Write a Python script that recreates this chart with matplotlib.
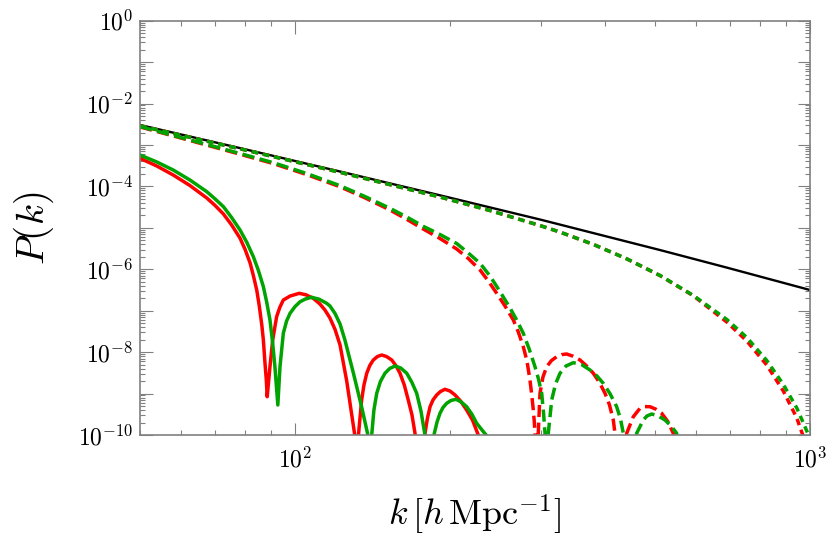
import numpy as np
import matplotlib
matplotlib.use('Agg')
import matplotlib.pyplot as plt
from matplotlib.ticker import FixedLocator, LogLocator, NullFormatter, FuncFormatter

# ---------------- data ----------------
k_black = [50, 78.2, 122.3, 191.2, 299, 511, 689, 1000]
P_black = [3.04e-3, 8.41e-4, 2.29e-4, 6.1e-5, 1.59e-5, 2.92e-6, 1.10e-6, 3.16e-7]

k_dot_g = [50, 78.2, 122.3, 191.2, 239.1, 298.9, 327.0, 379.5, 440.6, 511.3, 593.4,
           689.2, 753.6, 824, 887.6, 942.7, 985.8, 1000]
P_dot_g = [2.90e-3, 8.09e-4, 2.19e-4, 5.55e-5, 2.62e-5, 1.139e-5, 7.90e-6, 3.99e-6,
           1.79e-6, 7.11e-7, 2.34e-7, 6.17e-8, 2.27e-8, 6.32e-9, 1.66e-9, 4.48e-10,
           1.25e-10, 8.0e-11]

k_dot_r = [50, 78.2, 122.3, 191.2, 239.1, 298.9, 327.0, 379.5, 440.6, 511.3, 593.4,
           689.2, 753.6, 824, 887.6, 942.7, 969.5]
P_dot_r = [2.90e-3, 8.09e-4, 2.19e-4, 5.55e-5, 2.62e-5, 1.139e-5, 7.90e-6, 3.99e-6,
           1.79e-6, 7.05e-7, 2.30e-7, 5.34e-8, 1.86e-8, 4.90e-9, 1.15e-9, 2.57e-10,
           9.5e-11]

k_dash_r = [50, 58.0, 67.4, 78.2, 90.75, 105.4, 122.3, 136.7, 152.9, 164.8, 177.4,
            191.2, 206.0, 217.0, 228.7, 237.3, 246.4, 255.7, 265.4, 271.4, 277.5,
            282.1, 285.9, 288.2, 290.2, 291.5, 292.4, 294.4,
            296.7, 299.0, 303.0, 308.1, 314.8, 322.2, 329.5, 336.9, 346.5, 357.6,
            368.4, 379.5, 390.1, 399.9, 408.0, 415.0, 418.1, 430.0,
            440.6, 453.8, 467.6, 478.1, 488.9, 502.2, 515.2, 529.4, 542.6, 555]
P_dash_r = [2.73e-3, 1.657e-3, 9.94e-4, 5.99e-4, 3.56e-4, 1.93e-4, 9.79e-5, 5.31e-5,
            2.70e-5, 1.608e-5, 9.38e-6, 5.53e-6, 3.09e-6, 1.82e-6, 9.61e-7, 5.21e-7,
            2.63e-7, 1.30e-7, 5.97e-8, 3.06e-8, 1.353e-8, 6.11e-9, 2.13e-9, 9.24e-10,
            4.01e-10, 2.06e-10, 1.10e-10, 1e-13,
            1.10e-10, 1.015e-9, 2.51e-9, 4.45e-9, 6.28e-9, 7.76e-9, 8.72e-9, 9.02e-9,
            7.98e-9, 6.46e-9, 4.63e-9, 3.09e-9, 1.85e-9, 1.015e-9, 5.30e-10, 2.30e-10,
            1.10e-10, 1e-13,
            1.10e-10, 2.76e-10, 4.41e-10, 4.85e-10, 4.82e-10, 4.19e-10, 3.34e-10,
            2.12e-10, 1.10e-10, 1e-13]

k_dash_g = [50, 58.0, 67.4, 78.2, 90.75, 105.4, 122.3, 136.7, 152.9, 164.8, 177.4,
            191.2, 206.0, 217.0, 228.7, 239.1, 250.0, 261.5, 269.4, 277.5, 284.9,
            292.4, 297.0, 301.3, 303.7, 305.8, 308.5,
            310.3, 315.1, 320.5, 327.0, 335.9, 347.0, 360.0, 373.9, 385.8, 396.8,
            409.3, 421.3, 428.6, 434.0, 447.0,
            460.7, 474.5, 482.4, 492.7, 506.7, 522.9, 537.5, 551.0, 570]
P_dash_g = [2.79e-3, 1.695e-3, 1.028e-3, 6.23e-4, 3.74e-4, 2.05e-4, 1.041e-4, 5.71e-5,
            2.96e-5, 1.83e-5, 1.09e-5, 6.91e-6, 4.19e-6, 2.47e-6, 1.394e-6, 6.88e-7,
            2.91e-7, 1.163e-7, 5.97e-8, 2.85e-8, 1.19e-8, 4.45e-9, 2.25e-9, 1.015e-9,
            3.59e-10, 1.10e-10, 1e-13,
            1.10e-10, 7.0e-10, 1.70e-9, 3.09e-9, 4.63e-9, 5.56e-9, 5.03e-9, 3.71e-9,
            2.65e-9, 1.77e-9, 9.76e-10, 4.82e-10, 2.43e-10, 1.10e-10, 1e-13,
            1.10e-10, 2.30e-10, 2.88e-10, 3.21e-10, 2.91e-10, 2.30e-10, 1.65e-10,
            1.10e-10, 1e-13]

k_sol_r = [50, 53.9, 58.0, 62.5, 67.4, 69.9, 72.6, 75.3, 78.2, 80.0, 81.8, 83.0,
           84.3, 85.2, 86.2, 86.8, 87.4, 87.95, 88.3,
           89.4, 90.5, 92.1, 93.4, 94.9, 97.8, 101.9, 105.0, 108.5, 111.8, 114.3,
           116.9, 119.6, 122.3, 126.0, 128.8, 130.7, 131.5,
           132.7, 134.7, 136.1, 137.8, 139.7, 141.9, 144.5, 147.3, 150.5, 154.1,
           157.1, 159.9, 163.0, 165.9, 168.7, 171.0, 174.5,
           178.8, 180.8, 182.9, 185.3, 188.4, 191.6, 195.5, 200.0, 204.5, 209.6,
           215.4, 221.1, 226.9, 230.0]
P_sol_r = [4.77e-4, 3.11e-4, 1.886e-4, 1.052e-4, 5.25e-5, 3.50e-5, 2.16e-5, 1.178e-5,
           5.63e-6, 3.00e-6, 1.418e-6, 7.08e-7, 3.07e-7, 1.335e-7, 4.52e-8, 1.96e-8,
           5.78e-9, 2.13e-9, 8.40e-10,
           4.45e-9, 1.96e-8, 7.17e-8, 1.195e-7, 1.81e-7, 2.26e-7, 2.63e-7, 2.42e-7,
           1.99e-7, 1.45e-7, 1.04e-7, 6.67e-8, 3.52e-8, 1.487e-8, 2.01e-9, 3.21e-10,
           9.46e-11, 1e-13,
           9.1e-11, 7.0e-10, 1.61e-9, 3.09e-9, 4.76e-9, 6.46e-9, 7.81e-9, 8.53e-9,
           7.85e-9, 6.46e-9, 4.68e-9, 3.09e-9, 1.61e-9, 7.0e-10, 3.04e-10, 1.10e-10, 1e-13,
           1.10e-10, 2.57e-10, 4.82e-10, 7.0e-10, 9.24e-10, 1.12e-9, 1.27e-9, 1.15e-9,
           9.24e-10, 6.61e-10, 4.01e-10, 2.30e-10, 1.0e-10, 1e-13]

k_sol_g = [50, 53.9, 58.0, 62.5, 67.4, 69.9, 72.6, 75.3, 78.2, 80.6, 83.0, 84.9,
           86.8, 88.1, 89.4, 90.4, 91.4, 92.6,
           93.5, 94.9, 96.3, 97.8, 100.0, 102.3, 104.8, 107.7, 111.3, 115.2, 116.9,
           119.6, 122.3, 125.0, 129.8, 134.7, 138.8, 140.1,
           140.9, 142.3, 144.1, 146.5, 149.5, 152.7, 156.4, 160.4, 164.8, 168.5,
           172.3, 175.6, 178.8, 182.4,
           186.1, 188.7, 191.2, 193.8, 197.0, 200.8, 205.4, 210.3, 215.4, 220.4,
           225.3, 230.7, 235.9, 240.0]
P_sol_g = [5.73e-4, 3.89e-4, 2.49e-4, 1.43e-4, 7.46e-5, 5.03e-5, 3.24e-5, 1.78e-5,
           8.87e-6, 4.48e-6, 2.01e-6, 9.35e-7, 3.80e-7, 1.62e-7, 5.97e-8, 1.86e-8,
           4.45e-9, 5.30e-10,
           4.45e-9, 2.85e-8, 5.64e-8, 8.66e-8, 1.26e-7, 1.65e-7, 1.92e-7, 2.11e-7,
           1.90e-7, 1.51e-7, 1.30e-7, 8.56e-8, 4.78e-8, 1.96e-8, 3.14e-9, 4.74e-10,
           8.95e-11, 1e-13,
           1.0e-10, 4.01e-10, 1.015e-9, 1.96e-9, 3.09e-9, 4.03e-9, 4.63e-9, 4.14e-9,
           3.09e-9, 1.90e-9, 1.015e-9, 3.80e-10, 1.0e-10, 1e-13,
           1.0e-10, 2.06e-10, 3.34e-10, 4.61e-10, 5.82e-10, 6.80e-10, 7.27e-10,
           6.26e-10, 4.82e-10, 3.21e-10, 1.92e-10, 1.32e-10, 9.46e-11, 1e-13]

x_major = [100, 1000]
y_major_exp = list(range(-10, 1))

RED = '#ff0000'
GREEN = '#00a300'

# ---------------- figure ----------------
plt.rcParams['mathtext.fontset'] = 'cm'
plt.rcParams['font.family'] = ['DejaVu Serif']

fig = plt.figure(figsize=(8.3, 5.4), dpi=100)
ax = fig.add_axes([140/830, 1-435/540, 670/830, 414.3/540])
ax.set_xscale('log')
ax.set_yscale('log')

lw = 2.5
ax.plot(k_black, P_black, color='black', lw=1.7, solid_capstyle='butt')
ax.plot(k_sol_r, P_sol_r, color=RED, lw=lw)
ax.plot(k_dash_r, P_dash_r, color=RED, lw=lw, dashes=(3.5, 1.6))
ax.plot(k_dot_r, P_dot_r, color=RED, lw=lw, dashes=(1.9, 1.4))
ax.plot(k_sol_g, P_sol_g, color=GREEN, lw=lw)
ax.plot(k_dash_g, P_dash_g, color=GREEN, lw=lw, dashes=(3.5, 1.6))
ax.plot(k_dot_g, P_dot_g, color=GREEN, lw=lw, dashes=(1.9, 1.4))

ax.set_xlim(50, 1000)
ax.set_ylim(1e-10, 1)

ax.xaxis.set_major_locator(FixedLocator(x_major))
ax.xaxis.set_major_formatter(FuncFormatter(lambda v, p: r'$10^{%d}$' % round(np.log10(v))))
ax.xaxis.set_minor_locator(LogLocator(base=10, subs=range(2, 10), numticks=100))
ax.xaxis.set_minor_formatter(NullFormatter())

ax.yaxis.set_major_locator(FixedLocator([10.0**e for e in y_major_exp]))
def yfmt(v, p):
    e = int(round(np.log10(v)))
    return r'$10^{%d}$' % e if e % 2 == 0 else ''
ax.yaxis.set_major_formatter(FuncFormatter(yfmt))
ax.yaxis.set_minor_locator(LogLocator(base=10, subs=range(2, 10), numticks=100))
ax.yaxis.set_minor_formatter(NullFormatter())

gray = '#808080'
ax.tick_params(which='both', direction='in', top=True, right=True, color=gray, width=0.8)
ax.tick_params(which='major', length=9, labelsize=17, pad=5)
ax.tick_params(axis='x', which='major', pad=9)
ax.tick_params(which='minor', length=3.6)
for s in ax.spines.values():
    s.set_color(gray)
    s.set_linewidth(1.2)

ax.set_xlabel(r'$k\,[h\,\mathrm{Mpc}^{-1}]$', fontsize=26, labelpad=15)
ax.set_ylabel(r'$P(k)$', fontsize=28, labelpad=16)

fig.savefig('out.png', dpi=100)
